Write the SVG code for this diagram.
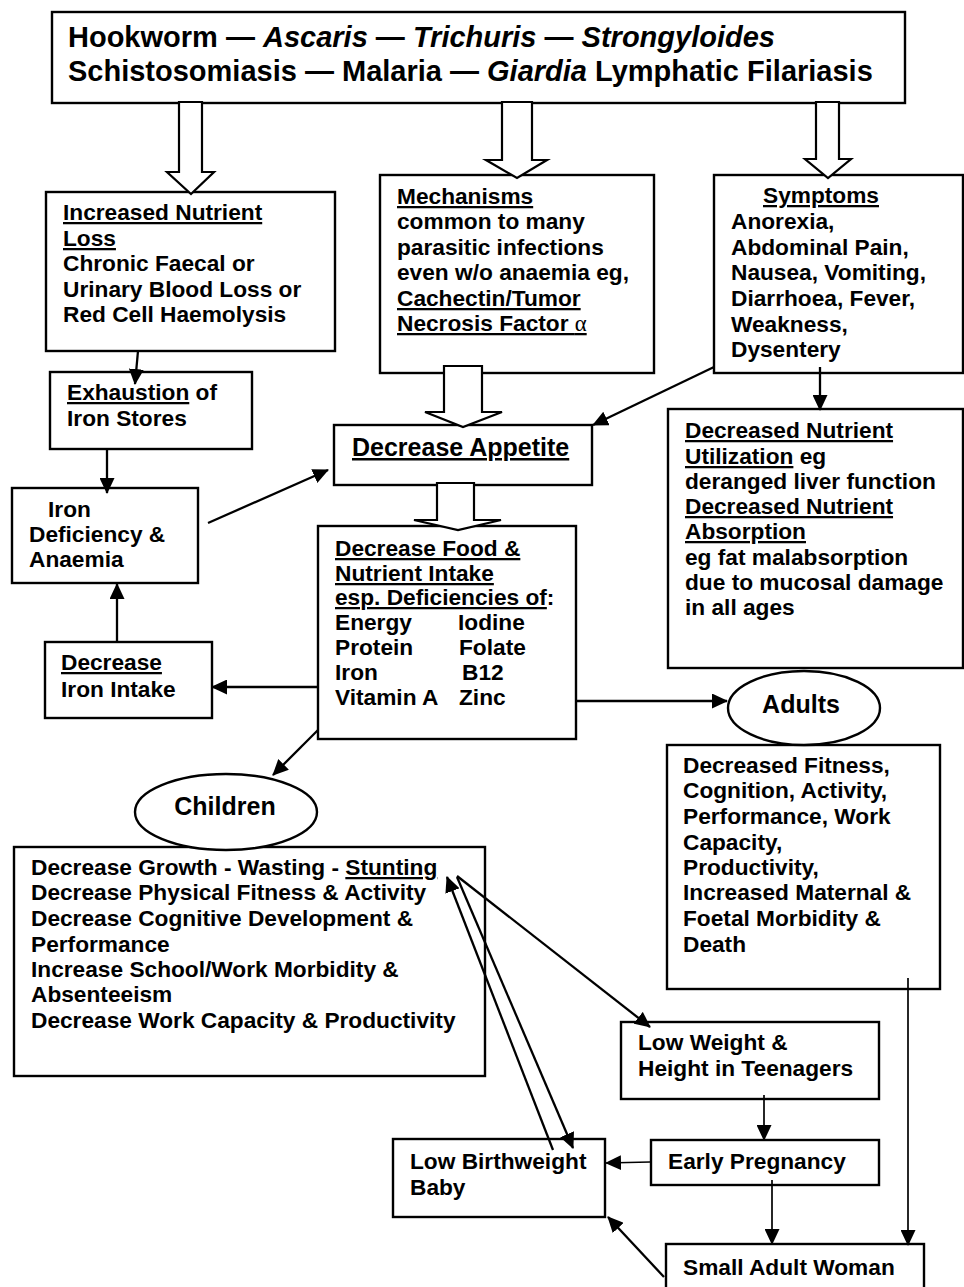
<svg xmlns="http://www.w3.org/2000/svg" width="964" height="1287" viewBox="0 0 964 1287">
<style>
.b{fill:#fff;stroke:#000;stroke-width:2.4}
.blk{fill:#fff;stroke:#000;stroke-width:2.2;stroke-linejoin:miter}
.t{font-family:"Liberation Sans",Arial,sans-serif;font-weight:bold;font-size:22.7px;fill:#000}
.lg{font-size:25px}
.ttl{font-size:29px}
.u{text-decoration:underline}
.i{font-style:italic}
.al{font-family:"Liberation Serif","Times New Roman",serif;font-weight:normal}
.c line{stroke:#000;stroke-width:2.3;marker-end:url(#ah)}
.c line.th{stroke-width:1.7}
</style>
<defs>
<marker id="ah" markerUnits="userSpaceOnUse" markerWidth="16" markerHeight="15" refX="15" refY="7.5" orient="auto">
<path d="M0,0 L16,7.5 L0,15 z" fill="#000"/>
</marker>
</defs>
<rect width="964" height="1287" fill="#fff"/>

<g id="top">
<rect class="b" x="52" y="12" width="853" height="91"/>
<text class="t ttl" x="68" y="47">Hookworm — <tspan class="i">Ascaris</tspan> — <tspan class="i">Trichuris</tspan> — <tspan class="i">Strongyloides</tspan></text>
<text class="t ttl" x="68" y="81">Schistosomiasis — Malaria — <tspan class="i">Giardia</tspan> Lymphatic Filariasis</text>
</g>

<g id="loss">
<rect class="b" x="46" y="192" width="289" height="159"/>
<text class="t" x="63" y="220"><tspan class="u">Increased Nutrient</tspan></text>
<text class="t" x="63" y="246"><tspan class="u">Loss</tspan></text>
<text class="t" x="63" y="271">Chronic Faecal or</text>
<text class="t" x="63" y="297">Urinary Blood Loss or</text>
<text class="t" x="63" y="322">Red Cell Haemolysis</text>
</g>

<g id="mechanisms">
<rect class="b" x="380" y="175" width="274" height="198"/>
<text class="t" x="397" y="204"><tspan class="u">Mechanisms</tspan></text>
<text class="t" x="397" y="229">common to many</text>
<text class="t" x="397" y="255">parasitic infections</text>
<text class="t" x="397" y="280">even w/o anaemia eg,</text>
<text class="t" x="397" y="306"><tspan class="u">Cachectin/Tumor</tspan></text>
<text class="t" x="397" y="331"><tspan class="u">Necrosis Factor <tspan class="al">α</tspan></tspan></text>
</g>

<g id="symptoms">
<rect class="b" x="714" y="175" width="249" height="198"/>
<text class="t" x="763" y="203"><tspan class="u">Symptoms</tspan></text>
<text class="t" x="731" y="229">Anorexia,</text>
<text class="t" x="731" y="255">Abdominal Pain,</text>
<text class="t" x="731" y="280">Nausea, Vomiting,</text>
<text class="t" x="731" y="306">Diarrhoea, Fever,</text>
<text class="t" x="731" y="332">Weakness,</text>
<text class="t" x="731" y="357">Dysentery</text>
</g>

<g id="exhaustion">
<rect class="b" x="50" y="372" width="202" height="77"/>
<text class="t" x="67" y="400"><tspan class="u">Exhaustion</tspan> of</text>
<text class="t" x="67" y="426">Iron Stores</text>
</g>

<g id="appetite">
<rect class="b" x="334" y="425" width="258" height="60"/>
<text class="t lg" x="352" y="456"><tspan class="u">Decrease Appetite</tspan></text>
</g>

<g id="irondef">
<rect class="b" x="12" y="488" width="186" height="95"/>
<text class="t" x="48" y="517">Iron</text>
<text class="t" x="29" y="542">Deficiency &amp;</text>
<text class="t" x="29" y="567">Anaemia</text>
</g>

<g id="utilization">
<rect class="b" x="668" y="409" width="295" height="259"/>
<text class="t" x="685" y="438"><tspan class="u">Decreased Nutrient</tspan></text>
<text class="t" x="685" y="464"><tspan class="u">Utilization</tspan> eg</text>
<text class="t" x="685" y="489">deranged liver function</text>
<text class="t" x="685" y="514"><tspan class="u">Decreased Nutrient</tspan></text>
<text class="t" x="685" y="539"><tspan class="u">Absorption</tspan></text>
<text class="t" x="685" y="565">eg fat malabsorption</text>
<text class="t" x="685" y="590">due to mucosal damage</text>
<text class="t" x="685" y="615">in all ages</text>
</g>

<g id="food">
<rect class="b" x="318" y="526" width="258" height="213"/>
<text class="t" x="335" y="556"><tspan class="u">Decrease Food &amp;</tspan></text>
<text class="t" x="335" y="581"><tspan class="u">Nutrient Intake</tspan></text>
<text class="t" x="335" y="605"><tspan class="u">esp. Deficiencies of</tspan>:</text>
<text class="t" x="335" y="630">Energy</text>
<text class="t" x="458" y="630">Iodine</text>
<text class="t" x="335" y="655">Protein</text>
<text class="t" x="459" y="655">Folate</text>
<text class="t" x="335" y="680">Iron</text>
<text class="t" x="462" y="680">B12</text>
<text class="t" x="335" y="705">Vitamin A</text>
<text class="t" x="459" y="705">Zinc</text>
</g>

<g id="ironintake">
<rect class="b" x="45" y="642" width="167" height="76"/>
<text class="t" x="61" y="670"><tspan class="u">Decrease</tspan></text>
<text class="t" x="61" y="697">Iron Intake</text>
</g>

<g id="adultsbox">
<rect class="b" x="667" y="745" width="273" height="244"/>
<text class="t" x="683" y="773">Decreased Fitness,</text>
<text class="t" x="683" y="798">Cognition, Activity,</text>
<text class="t" x="683" y="824">Performance, Work</text>
<text class="t" x="683" y="850">Capacity,</text>
<text class="t" x="683" y="875">Productivity,</text>
<text class="t" x="683" y="900">Increased Maternal &amp;</text>
<text class="t" x="683" y="926">Foetal Morbidity &amp;</text>
<text class="t" x="683" y="952">Death</text>
</g>

<g id="adults">
<ellipse class="b" cx="804" cy="708" rx="76" ry="37"/>
<text class="t lg" x="801" y="713" text-anchor="middle">Adults</text>
</g>

<g id="childrenbox">
<rect class="b" x="14" y="847" width="471" height="229"/>
<text class="t" x="31" y="875">Decrease Growth - Wasting - <tspan class="u">Stunting</tspan></text>
<text class="t" x="31" y="900">Decrease Physical Fitness &amp; Activity</text>
<text class="t" x="31" y="926">Decrease Cognitive Development &amp;</text>
<text class="t" x="31" y="952">Performance</text>
<text class="t" x="31" y="977">Increase School/Work Morbidity &amp;</text>
<text class="t" x="31" y="1002">Absenteeism</text>
<text class="t" x="31" y="1028">Decrease Work Capacity &amp; Productivity</text>
</g>

<g id="children">
<ellipse class="b" cx="226" cy="812" rx="91" ry="38"/>
<text class="t lg" x="225" y="815" text-anchor="middle">Children</text>
</g>

<g id="lowweight">
<rect class="b" x="621" y="1022" width="258" height="77"/>
<text class="t" x="638" y="1050">Low Weight &amp;</text>
<text class="t" x="638" y="1076">Height in Teenagers</text>
</g>

<g id="early">
<rect class="b" x="651" y="1140" width="228" height="45"/>
<text class="t" x="668" y="1169">Early Pregnancy</text>
</g>

<g id="lbw">
<rect class="b" x="393" y="1139" width="212" height="78"/>
<text class="t" x="410" y="1169">Low Birthweight</text>
<text class="t" x="410" y="1195">Baby</text>
</g>

<g id="woman">
<rect class="b" x="666" y="1244" width="258" height="60"/>
<text class="t" x="683" y="1275">Small Adult Woman</text>
</g>

<g id="blockarrows">
<polygon class="blk" points="179,102 202,102 202,172 214,172 191,194 167,172 179,172"/>
<polygon class="blk" points="502,102 532,102 532,160 547,160 517,178 486,160 502,160"/>
<polygon class="blk" points="816,102 839,102 839,159 851,159 828,178 805,159 816,159"/>
<polygon class="blk" points="444,366 482,366 482,412 502,412 463,427 425,412 444,412"/>
<polygon class="blk" points="437,483 474,483 474,520 501,520 458,530 414,520 437,520"/>
</g>

<g id="connectors" class="c">
<line x1="138" y1="351" x2="135" y2="384"/>
<line x1="107" y1="449" x2="107" y2="493"/>
<line x1="208" y1="523" x2="328" y2="470"/>
<line x1="714" y1="367" x2="593" y2="425"/>
<line x1="820" y1="367" x2="820" y2="410"/>
<line x1="318" y1="687" x2="212" y2="687"/>
<line x1="117" y1="642" x2="117" y2="584"/>
<line x1="576" y1="701" x2="727" y2="701"/>
<line x1="318" y1="730" x2="273" y2="775"/>
<line class="th" x1="908" y1="978" x2="908" y2="1245"/>
<line x1="457" y1="876" x2="650" y2="1027"/>
<line x1="457" y1="877" x2="573" y2="1148"/>
<line x1="553" y1="1150" x2="447" y2="877"/>
<line class="th" x1="764" y1="1095" x2="764" y2="1140"/>
<line class="th" x1="650" y1="1162" x2="606" y2="1163"/>
<line class="th" x1="772" y1="1180" x2="772" y2="1244"/>
<line x1="664" y1="1277" x2="608" y2="1217"/>
</g>
</svg>
